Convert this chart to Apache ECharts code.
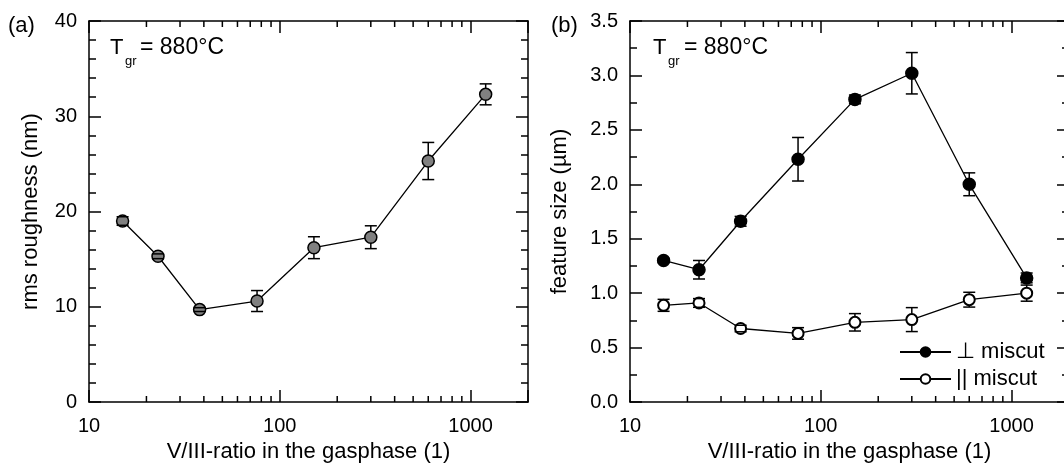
<!DOCTYPE html>
<html>
<head>
<meta charset="utf-8">
<script src="https://cdn.jsdelivr.net/npm/echarts@6/dist/echarts.min.js"></script>
<style>
  html, body { margin: 0; padding: 0; background: #fff; overflow: hidden; }
  /* a little wider than the window: panel (b) is cut at its right edge */
  #chart { width: 1080px; height: 476px; }
</style>
</head>
<body>
<div id="chart"></div>
<script>
// V/III ratio (shared x values of both panels)
const ratio = [15, 23, 38, 76, 151, 300, 600, 1200];

// panel (a): rms roughness (nm)
const roughness = [19.0, 15.3, 9.7, 10.6, 16.2, 17.3, 25.3, 32.3];
const roughnessErr = [0.45, 0.25, 0.2, 1.1, 1.15, 1.2, 1.95, 1.1];

// panel (b): feature size (um)
const perpSize = [1.30, 1.215, 1.66, 2.23, 2.78, 3.02, 2.0, 1.14];
const perpErr = [0.02, 0.085, 0.045, 0.2, 0.04, 0.19, 0.105, 0.045];
const paraSize = [0.888, 0.91, 0.675, 0.63, 0.732, 0.757, 0.94, 1.0];
const paraErr = [0.055, 0.04, 0.03, 0.053, 0.08, 0.11, 0.068, 0.074];

// log axis ticks
const decadeLabels = [10, 100, 1000];
const logMinorTicks = [20, 30, 40, 50, 60, 70, 80, 90, 200, 300, 400, 500, 600, 700, 800, 900];

const FONT = '"Liberation Sans", Arial, sans-serif';
const black = '#000';

const chart = echarts.init(document.getElementById('chart'));

const xAxisPair = (gridIndex) => {
  const base = {
    type: 'log',
    logBase: 10,
    min: 10,
    max: 2000,
    gridIndex,
    splitLine: { show: false },
    axisLine: { onZero: false, lineStyle: { color: black, width: 1.5 } },
    axisTick: { inside: true, length: 12, lineStyle: { color: black, width: 1.5 } },
  };
  return [
    {
      ...base,
      position: 'bottom',
      axisLabel: {
        color: black,
        fontSize: 20,
        fontFamily: FONT,
        margin: 14,
        formatter: (v) => (decadeLabels.includes(Math.round(v)) ? String(Math.round(v)) : ''),
      },
      name: 'V/III-ratio in the gasphase (1)',
      nameLocation: 'middle',
      nameGap: 38,
      nameTextStyle: { color: black, fontSize: 22, fontFamily: FONT },
    },
    { ...base, position: 'top', axisLabel: { show: false } },
  ];
};

const yAxisPair = (gridIndex, max, interval, minorSplit, name, nameGap, fmt) => {
  const base = {
    type: 'value',
    min: 0,
    max,
    interval,
    gridIndex,
    splitLine: { show: false },
    axisLine: { onZero: false, lineStyle: { color: black, width: 1.5 } },
    axisTick: { inside: true, length: 12, lineStyle: { color: black, width: 1.5 } },
    minorTick: { show: true, splitNumber: minorSplit, length: 7, lineStyle: { color: black, width: 1.5 } },
  };
  return [
    {
      ...base,
      position: 'left',
      axisLabel: { color: black, fontSize: 20, fontFamily: FONT, margin: 12, formatter: fmt },
      name,
      nameLocation: 'middle',
      nameGap,
      nameTextStyle: { color: black, fontSize: 22, fontFamily: FONT },
    },
    { ...base, position: 'right', axisLabel: { show: false } },
  ];
};

// minor ticks of the log axes (2..9 per decade), bottom and top
const minorTickSeries = (axisIndex, yMin, yMax) => ({
  type: 'custom',
  xAxisIndex: axisIndex,
  yAxisIndex: axisIndex,
  silent: true,
  clip: false,
  data: logMinorTicks.map((v) => [v]),
  renderItem: (params, api) => {
    const v = api.value(0);
    const b = api.coord([v, yMin]);
    const t = api.coord([v, yMax]);
    return {
      type: 'group',
      children: [
        { type: 'line', shape: { x1: b[0], y1: b[1], x2: b[0], y2: b[1] - 6 }, style: { stroke: black, lineWidth: 1.5 } },
        { type: 'line', shape: { x1: t[0], y1: t[1], x2: t[0], y2: t[1] + 6 }, style: { stroke: black, lineWidth: 1.5 } },
      ],
    };
  },
});

const errorSeries = (axisIndex, ys, errs) => ({
  type: 'custom',
  xAxisIndex: axisIndex,
  yAxisIndex: axisIndex,
  silent: true,
  z: 4,
  data: ratio.map((x, i) => [x, ys[i], errs[i]]),
  renderItem: (params, api) => {
    const x = api.value(0);
    const y = api.value(1);
    const e = api.value(2);
    const c = api.coord([x, y]);
    const hi = api.coord([x, y + e]);
    const lo = api.coord([x, y - e]);
    const r = 6;
    const cap = 6;
    const style = { stroke: black, lineWidth: 1.5 };
    const children = [
      { type: 'line', shape: { x1: c[0] - cap, y1: hi[1], x2: c[0] + cap, y2: hi[1] }, style: { ...style } },
      { type: 'line', shape: { x1: c[0] - cap, y1: lo[1], x2: c[0] + cap, y2: lo[1] }, style: { ...style } },
    ];
    if (hi[1] < c[1] - r) {
      children.push({ type: 'line', shape: { x1: c[0], y1: hi[1], x2: c[0], y2: c[1] - r }, style: { ...style } });
    }
    if (lo[1] > c[1] + r) {
      children.push({ type: 'line', shape: { x1: c[0], y1: c[1] + r, x2: c[0], y2: lo[1] }, style: { ...style } });
    }
    return { type: 'group', children };
  },
});

const lineSeries = (name, axisIndex, ys, fill, size, borderWidth) => ({
  name,
  type: 'line',
  xAxisIndex: axisIndex,
  yAxisIndex: axisIndex,
  data: ratio.map((x, i) => [x, ys[i]]),
  symbol: 'circle',
  symbolSize: size,
  showAllSymbol: true,
  z: 3,
  lineStyle: { color: black, width: 1.3 },
  itemStyle: { color: fill, borderColor: black, borderWidth },
  emphasis: { disabled: true },
});

const textItem = (text, x, y, size) => ({
  type: 'text',
  x,
  y,
  silent: true,
  style: { text, fontSize: size, fontFamily: FONT, fill: black, verticalAlign: 'middle' },
});

const option = {
  backgroundColor: '#fff',
  animation: false,
  grid: [
    { left: 89, top: 21, width: 439, height: 381, outerBoundsMode: 'none' },
    { left: 630, top: 21, width: 439, height: 381, outerBoundsMode: 'none' },
  ],
  xAxis: [...xAxisPair(0), ...xAxisPair(1)],
  yAxis: [
    ...yAxisPair(0, 40, 10, 5, 'rms roughness (nm)', 47, (v) => String(v)),
    ...yAxisPair(1, 3.5, 0.5, 2, 'feature size (µm)', 59, (v) => v.toFixed(1)),
  ],
  legend: {
    data: ['⊥ miscut', '|| miscut'],
    orient: 'vertical',
    left: 899,
    top: 341,
    padding: 0,
    itemGap: 5,
    itemWidth: 51,
    itemHeight: 12,
    selectedMode: false,
    textStyle: { color: black, fontSize: 22, fontFamily: FONT },
  },
  graphic: [
    textItem('(a)', 8, 26, 22),
    textItem('T', 110, 48, 22),
    textItem('gr', 125, 61, 13),
    textItem('= 880°C', 140, 48, 23),
    textItem('(b)', 551, 26, 22),
    textItem('T', 653, 48, 22),
    textItem('gr', 668, 61, 13),
    textItem('= 880°C', 684, 48, 23),
  ],
  series: [
    // x index 0/1 = grid (a) bottom/top, 2/3 = grid (b); y index same pattern
    minorTickSeries(0, 0, 40),
    lineSeries('roughness', 0, roughness, '#808080', 12, 1.5),
    errorSeries(0, roughness, roughnessErr),
    minorTickSeries(2, 0, 3.5),
    lineSeries('⊥ miscut', 2, perpSize, black, 12, 1.5),
    errorSeries(2, perpSize, perpErr),
    lineSeries('|| miscut', 2, paraSize, '#fff', 11, 2),
    errorSeries(2, paraSize, paraErr),
  ],
};

chart.setOption(option);
window.addEventListener('resize', () => chart.resize());
</script>
</body>
</html>
